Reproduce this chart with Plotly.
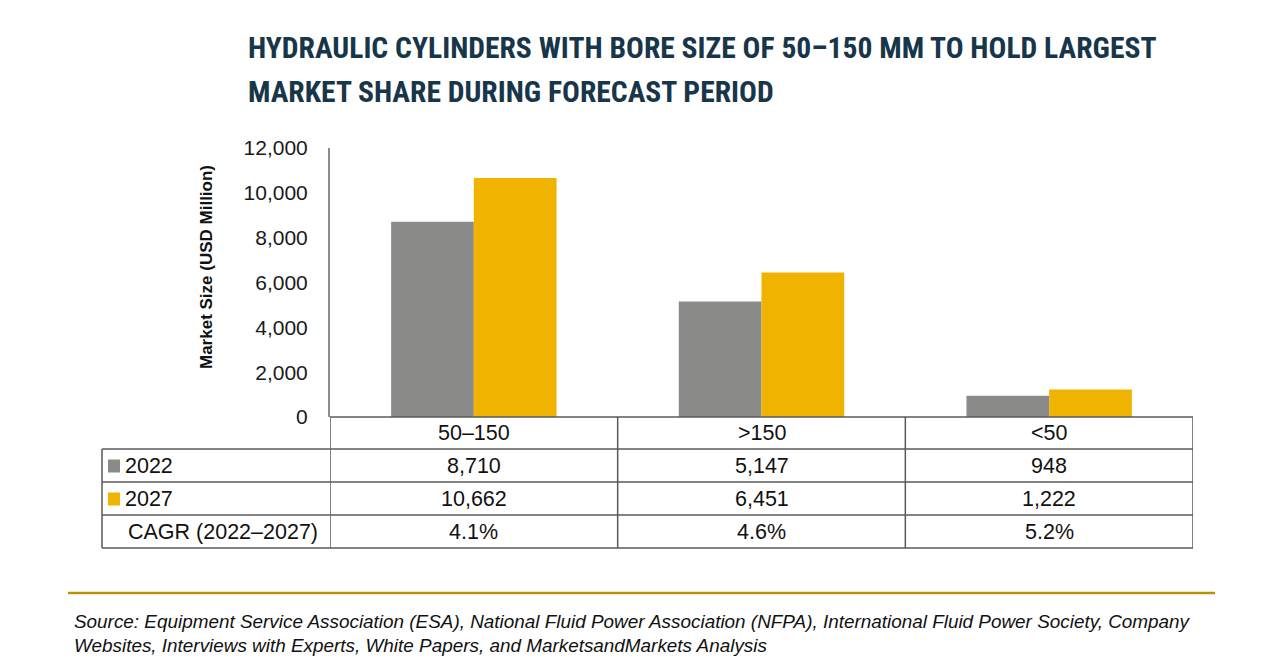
import plotly.graph_objects as go

categories = ["50–150", ">150", "<50"]
years = ["2022", "2027"]
values_2022 = [8710, 5147, 948]
values_2027 = [10662, 6451, 1222]
labels_2022 = ["8,710", "5,147", "948"]
labels_2027 = ["10,662", "6,451", "1,222"]
cagr = ["4.1%", "4.6%", "5.2%"]
cagr_label = "CAGR (2022–2027)"
y_ticks = [0, 2000, 4000, 6000, 8000, 10000, 12000]
y_ticktext = ["0", "2,000", "4,000", "6,000", "8,000", "10,000", "12,000"]

GRAY = "#8a8a89"
GOLD = "#efb300"
NARROW = "Roboto Condensed, Liberation Sans Narrow, Arial Narrow, Roboto, sans-serif"
SANS = "Liberation Sans, Arial, sans-serif"

L, R, T, B = 330, 87, 148, 253
PH = 670 - T - B
PW = 1280 - L - R

def px(x):
    return (x - L) / PW

def py(y):
    return (670 - B - y) / PH

fig = go.Figure()
fig.add_bar(x=[0, 1, 2], y=values_2022, name=years[0], marker_color=GRAY, marker_line_width=0)
fig.add_bar(x=[0, 1, 2], y=values_2027, name=years[1], marker_color=GOLD, marker_line_width=0)

fig.update_layout(
    width=1280, height=670,
    margin=dict(l=L, r=R, t=T, b=B),
    paper_bgcolor="white", plot_bgcolor="white",
    barmode="group", bargap=0.425, bargroupgap=0,
    showlegend=False,
    xaxis=dict(range=[-0.5, 2.5], showticklabels=False, showgrid=False, zeroline=False,
               showline=False, ticks=""),
    yaxis=dict(range=[0, 12000], tickvals=y_ticks, ticktext=y_ticktext, showgrid=False,
               zeroline=False, showline=True, linecolor="#8c8c8c", linewidth=2,
               ticks="", ticklabelstandoff=16,
               tickfont=dict(family=SANS, size=21, color="#1a1a1a")),
)

ann = []
shapes = []
line_col = "#5a5a5a"
tcol = "#17364a"
# Title
ann.append(dict(text="HYDRAULIC CYLINDERS WITH BORE SIZE OF 50–150 MM TO HOLD LARGEST",
                xref="paper", yref="paper", x=px(246), y=py(48), xanchor="left", yanchor="middle",
                showarrow=False, font=dict(family=NARROW, size=29.6, color=tcol, weight="bold")))
ann.append(dict(text="MARKET SHARE DURING FORECAST PERIOD",
                xref="paper", yref="paper", x=px(246), y=py(92), xanchor="left", yanchor="middle",
                showarrow=False, font=dict(family=NARROW, size=29.6, color=tcol, weight="bold")))
# Y title
ann.append(dict(text="Market Size (USD Million)", textangle=-90,
                xref="paper", yref="paper", x=px(206), y=py(267), xanchor="center", yanchor="middle",
                showarrow=False, font=dict(family=SANS, size=17, color="#111111", weight="bold")))

# Table grid
rows_y = [417, 449, 482, 515, 548]
for i, yy in enumerate(rows_y):
    x0 = 330 if i == 0 else 102
    shapes.append(dict(type="line", xref="paper", yref="paper", x0=px(x0), x1=px(1193),
                       y0=py(yy), y1=py(yy), line=dict(color=line_col, width=1.5)))
for xv in [-0.5, 0.5, 1.5, 2.5]:
    shapes.append(dict(type="line", xref="x", yref="paper", x0=xv, x1=xv,
                       y0=py(417), y1=py(548), line=dict(color=line_col, width=1.5)))
shapes.append(dict(type="line", xref="paper", yref="paper", x0=px(102), x1=px(102),
                   y0=py(449), y1=py(548), line=dict(color=line_col, width=1.5)))

tfont = dict(family=SANS, size=21.5, color="#111111")
row_centers = [433, 465.5, 498.5, 531.5]
row_texts = [categories, labels_2022, labels_2027, cagr]
for r, texts in enumerate(row_texts):
    for c, t in enumerate(texts):
        ann.append(dict(text=t, xref="x", yref="paper", x=c, y=py(row_centers[r]),
                        xanchor="center", yanchor="middle", showarrow=False, font=tfont))
# Legend labels
for r, (yr, col) in enumerate(zip(years, [GRAY, GOLD])):
    yc = row_centers[r + 1]
    shapes.append(dict(type="rect", xref="paper", yref="paper", x0=px(108), x1=px(120),
                       y0=py(yc + 7), y1=py(yc - 6), fillcolor=col, line=dict(width=0)))
    ann.append(dict(text=yr, xref="paper", yref="paper", x=px(123), y=py(yc),
                    xanchor="left", yanchor="middle", showarrow=False, font=tfont))
ann.append(dict(text=cagr_label, xref="paper", yref="paper", x=px(223), y=py(531.5),
                xanchor="center", yanchor="middle", showarrow=False, font=tfont))

# Source separator and text
shapes.append(dict(type="line", xref="paper", yref="paper", x0=px(68), x1=px(1215),
                   y0=py(593), y1=py(593), line=dict(color="#b8930a", width=2.5)))
sfont = dict(family=SANS, size=18.9, color="#111111", style="italic")
ann.append(dict(text="Source: Equipment Service Association (ESA), National Fluid Power Association (NFPA), International Fluid Power Society, Company",
                xref="paper", yref="paper", x=px(72), y=py(621), xanchor="left", yanchor="middle",
                showarrow=False, font=sfont))
ann.append(dict(text="Websites, Interviews with Experts, White Papers, and MarketsandMarkets Analysis",
                xref="paper", yref="paper", x=px(72), y=py(645), xanchor="left", yanchor="middle",
                showarrow=False, font=sfont))

fig.update_layout(annotations=ann, shapes=shapes)
fig.write_html("out.html", config={"displayModeBar": False},
               post_script="document.body.style.margin='0';document.body.style.overflow='hidden';")
